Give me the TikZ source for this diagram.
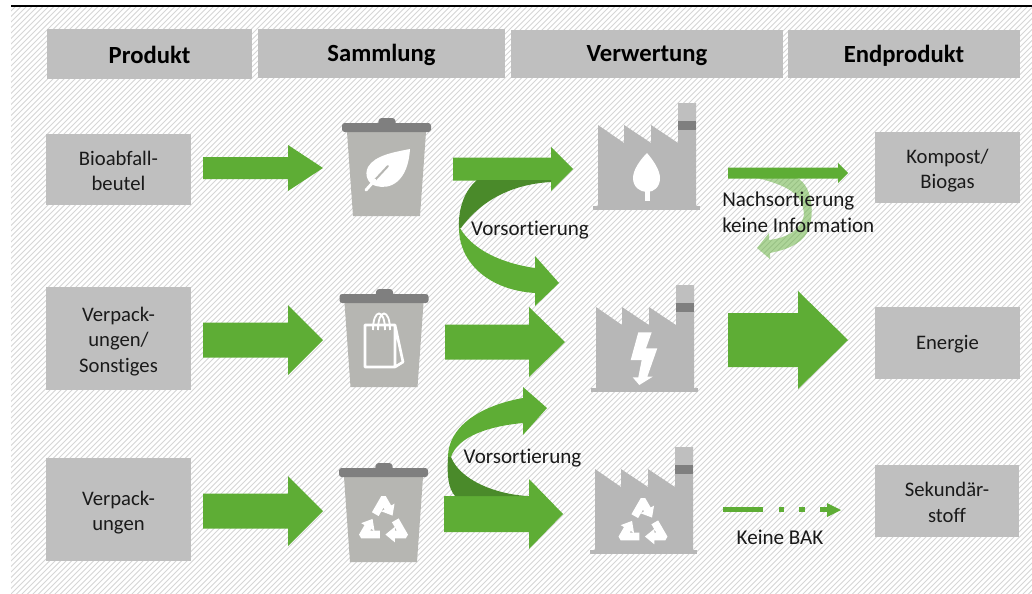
\documentclass[tikz,border=0pt]{standalone}
\usepackage{fontspec}
\setmainfont[Ligatures=NoCommon]{Carlito}
\definecolor{grn}{HTML}{5EAD35}
\definecolor{dgrn}{HTML}{4A8A2A}
\definecolor{boxg}{HTML}{BFBFBF}
\definecolor{facg}{HTML}{B7B7B7}
\definecolor{bing}{HTML}{B6B6B2}
\definecolor{lidg}{HTML}{7F7F7F}
\definecolor{hatchg}{HTML}{D6D6D6}
\definecolor{txt}{HTML}{1A1A1A}
\tikzset{
  hdr/.style={fill=boxg,draw=none,inner sep=0pt,font=\fontsize{18.5}{20}\selectfont\bfseries,text=black,align=center,execute at begin node={\rule{0pt}{15pt}}},
  cell/.style={fill=boxg,draw=none,inner sep=0pt},
  celltext/.style={inner sep=0pt,font=\fontsize{15.5}{19.2}\selectfont,text=txt,align=center},
  lab/.style={inner sep=0pt,font=\fontsize{15.8}{19.5}\selectfont,text=txt,align=left},
  band/.style={fill=grn,draw=none},
  dband/.style={fill=dgrn,draw=none},
  icon/.style={fill=white,draw=none},
}
% x0 x1(tip) yc shaft-half head-half head-start
\newcommand{\blockarr}[6]{\fill[band] (#1,#3-#4) -- (#6,#3-#4) -- (#6,#3-#5) -- (#2,#3) -- (#6,#3+#5) -- (#6,#3+#4) -- (#1,#3+#4) -- cycle;}
% bin: lid-left lid-top, height below the lid top
\newcommand{\wbin}[3]{\begin{scope}[shift={(#1,#2)}]
  \fill[bing] (5,9) -- (84,9) -- (78,#3) -- (11,#3) -- cycle;
  \fill[lidg,rounded corners=2] (0,0) rectangle (89,9);
  \fill[lidg,rounded corners=2] (36,2) -- (37,-5) -- (53,-5) -- (54,2) -- cycle;
\end{scope}}
% factory, origin at base left / bottom
\newcommand{\factory}[2]{\begin{scope}[shift={(#1,#2)}]
  \fill[facg] (0,-4) rectangle (107,0);
  \fill[facg] (5,-4) -- (5,-85) -- (31,-67) -- (31,-85) -- (58,-67) -- (58,-85) -- (85,-67) -- (85,-107) -- (103,-107) -- (103,-4) -- cycle;
  \fill[boxg] (85,-107) rectangle (103,-80);
  \fill[lidg] (85,-89) rectangle (103,-80);
\end{scope}}
\newcommand{\recyc}[2]{\begin{scope}[shift={(#1,#2)},scale=1.1]
  \foreach \a in {0,120,240}{
    \fill[icon,rotate=\a,line join=round] (-10.5,-9.81) -- (-2,-24.54) -- (2,-24.54) -- (7,-15.88) -- (10.03,-17.63) -- (8.22,-6.77) -- (-2.09,-10.63) -- (0.94,-12.38) -- (0,-14) -- (-4.44,-6.31) -- cycle;
  }
\end{scope}}
\begin{document}
\begin{tikzpicture}[x=0.75pt,y=-0.75pt]
\useasboundingbox (0,0) rectangle (1032,593);
\fill[white] (0,0) rectangle (1032,593);
\begin{scope}
  \clip (11,7) rectangle (1032,593);
  \foreach \k in {-600,-594.5,...,1040}{
    \draw[hatchg,line width=0.75pt] (\k,600) -- (\k+600,0);
  }
\end{scope}
\draw[black,line width=0.9pt] (11,6) -- (1032,6);

% headers
\node[hdr,minimum width=153.75pt,minimum height=37.5pt] (h1) at (149.5,54) {Produkt};
\node[hdr,minimum width=185.25pt,minimum height=36.75pt] (h2) at (381.5,53.5) {Sammlung};
\node[hdr,minimum width=204pt,minimum height=36pt] (h3) at (647,54) {Verwertung};
\node[hdr,minimum width=174pt,minimum height=36pt] (h4) at (904,54) {Endprodukt};

% product boxes
\node[cell,minimum width=108.75pt,minimum height=53.25pt] (p1) at (118.5,169.5) {};
\node[celltext,yshift=-1pt] (tp1) at (p1.center) {Bioabfall-\\beutel};
\node[cell,minimum width=108.75pt,minimum height=77.25pt] (p2) at (118.5,338.5) {};
\node[celltext,yshift=-2.2pt] (tp2) at (p2.center) {Verpack-\\ungen/\\Sonstiges};
\node[cell,minimum width=108.75pt,minimum height=77.25pt] (p3) at (118.5,509.5) {};
\node[celltext,yshift=-2.2pt] (tp3) at (p3.center) {Verpack-\\ungen};
% end boxes
\node[cell,minimum width=108.75pt,minimum height=53.25pt] (e1) at (947.5,167.5) {};
\node[celltext,yshift=-2.2pt] (te1) at (e1.center) {Kompost/\\Biogas};
\node[cell,minimum width=108.75pt,minimum height=54pt] (e2) at (947.5,343) {};
\node[celltext,yshift=-0.5pt] (te2) at (e2.center) {Energie};
\node[cell,minimum width=108pt,minimum height=54pt] (e3) at (947,501) {};
\node[celltext,yshift=-1pt] (te3) at (e3.center) {Sekundär-\\stoff};

% straight arrows
\blockarr{203}{323}{168}{11}{23}{288}
\blockarr{203}{323}{340}{17.5}{35}{288}
\blockarr{203}{323}{511}{17.5}{35}{288}
\blockarr{453}{573}{169}{11.5}{22}{551}
\blockarr{445}{565}{342}{17.5}{35}{529}
\blockarr{444}{563}{514}{18}{35}{529}
\blockarr{728}{848}{340}{27}{49}{798}
\blockarr{728}{848}{173}{5.5}{10}{838}

% upper curved arrow
\fill[dband] (477,180) -- (551,180) -- (551,182) .. controls (515,184) and (483,198) .. (461,228) -- (459,228) .. controls (458,208) and (465,190) .. (477,180) -- cycle;
\fill[band] (459,228) .. controls (459,262) and (488,290) .. (535,293) -- (535,306) -- (559,283) -- (535,256) -- (535,268) .. controls (500,263) and (472,249) .. (460,228) -- cycle;
% lower curved arrow
\fill[band] (448,457) .. controls (448,428) and (478,406) .. (523,398) -- (523,387) -- (547,408) -- (523,435) -- (523,423) .. controls (490,426) and (458,436) .. (451,457) -- cycle;
\fill[dband] (448,457) .. controls (447,475) and (448,488) .. (455,496) -- (527,496) .. controls (495,494) and (460,480) .. (451,457) -- cycle;

% faint curved arrow
\fill[grn,opacity=0.5] (757,178) -- (797,178) .. controls (812,185) and (816,215) .. (807,233) .. controls (800,245) and (785,250) .. (770,253) -- (770,259) -- (757,248) -- (769,233) -- (769,240) .. controls (785,238) and (800,232) .. (804,215) .. controls (803,195) and (790,186) .. (757,178) -- cycle;

% dash-dot arrow
\fill[band] (723,506.5) rectangle (763,511.5);
\fill[band] (779,506.5) rectangle (784,511.5);
\fill[band] (799,506.5) rectangle (805,511.5);
\fill[band] (820,506.5) rectangle (829,511.5);
\fill[band] (827,503) -- (841,510) -- (827,517) -- cycle;

% bins
\wbin{342}{123}{93}
\wbin{339.5}{294}{93}
\wbin{339}{468}{94}
% leaf
\fill[icon] (410,149) .. controls (395,152) and (375,155) .. (368,167) .. controls (364,175) and (368,184) .. (376,186) .. controls (390,190) and (408,182) .. (410,149) -- cycle;
\draw[bing,line width=1.5pt,line cap=round] (374,181) -- (388,166);
\draw[white,line width=2.2pt,line cap=round] (366,190) -- (375,180);
% bag
\draw[white,line width=2pt,line join=round] (365,325) rectangle (395,367) (395,325) -- (403,362) -- (395,367);
\draw[white,line width=1.4pt] (373,330) .. controls (373,308) and (385,308) .. (385,330) (378,330) .. controls (378,308) and (390,308) .. (390,330);
% recycle in bin
\recyc{383.5}{523}

% factories
\factory{593}{210}
\factory{591}{392}
\factory{590}{554}
% drop
\fill[icon] (647,153) .. controls (640,160) and (633,170) .. (633,178) .. controls (633,187) and (640,192) .. (647,192) .. controls (654,192) and (660,187) .. (660,178) .. controls (660,170) and (653,160) .. (647,153) -- cycle;
\fill[icon] (645,190) rectangle (650,201);
% lightning
\fill[icon] (638.3,332.3) -- (651.7,332.3) -- (646,348.3) -- (657.3,348.3) -- (647.3,376.7) -- (652.7,376.7) -- (639.3,385) -- (632.7,377.3) -- (638.3,377.3) -- (641.7,360) -- (630.7,360) -- cycle;
% recycle in factory
\recyc{643}{525}

% labels
\node[lab] (v1) at (530,230.5) {Vorsortierung};
\node[lab] (v2) at (522.5,458.5) {Vorsortierung};
\node[lab,anchor=west] (n1) at (722,212) {Nachsortierung\\keine Information};
\node[lab] (k1) at (780,537) {Keine BAK};
\end{tikzpicture}
\end{document}
